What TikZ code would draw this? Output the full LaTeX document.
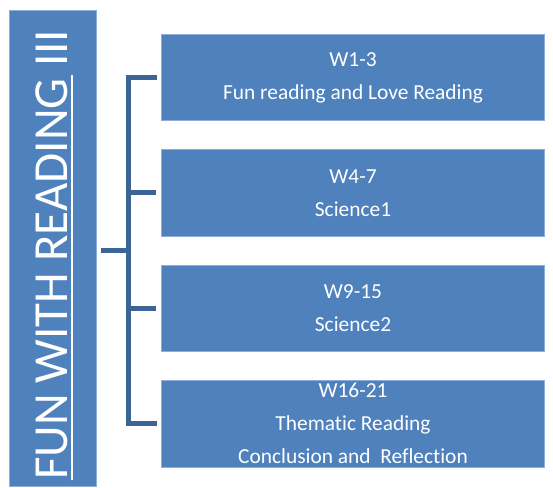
\documentclass[tikz,border=0pt]{standalone}
\usepackage{fontspec}
\setmainfont{Carlito}[Ligatures={NoCommon}]
\definecolor{boxblue}{HTML}{4F81BD}
\definecolor{boxedge}{HTML}{8EAEDA}
\definecolor{brackblue}{HTML}{3C6494}
\begin{document}
\begin{tikzpicture}[x=1pt,y=1pt,
  topic/.style={rectangle, fill=boxblue, draw=boxedge, line width=0.8pt,
    minimum width=382.6pt, minimum height=86.3pt, inner sep=0pt,
    text=white, align=center, font=\fontsize{21.4}{33}\selectfont},
  ttl/.style={rotate=90, text=white, inner sep=0pt, font=\fontsize{49}{50}\selectfont},
  brack/.style={draw=brackblue, line width=5pt, line join=miter}]
\useasboundingbox (0,0) rectangle (553,487);
\node[rectangle, fill=boxblue, draw=boxedge, line width=0.8pt, minimum width=87pt,
  minimum height=476pt, inner sep=0pt] (title) at (52.5,238.75) {};
\node[ttl, anchor=base west] (t1) at (67,7) {FUN WITH READING};
\node[ttl, anchor=base west] (t2) at (t1.base east) {\ III};
\draw[white, line width=2.5pt] ([xshift=5pt]t1.base west) -- ([xshift=5pt,yshift=3pt]t1.base east);
\node[topic] (b1) at (353,409.3) {W1-3\\Fun reading and Love Reading};
\node[topic] (b2) at (353,294) {W4-7\\Science1};
\node[topic] (b3) at (353,178.4) {W9-15\\Science2};
\node[topic] (b4) at (353,63.2) {W16-21\\Thematic Reading\\Conclusion and\ \ Reflection};
\coordinate (j) at (128.5,236.25);
\draw[brack] ([xshift=-4.5pt]b1.west) -| (j) |- ([xshift=-4.5pt]b4.west);
\draw[brack] (j |- b2.west) -- ([xshift=-5.5pt]b2.west);
\draw[brack] (j |- b3.west) -- ([xshift=-5.5pt]b3.west);
\draw[brack] ([xshift=5pt]title.east |- j) -- (j);
\end{tikzpicture}
\end{document}
